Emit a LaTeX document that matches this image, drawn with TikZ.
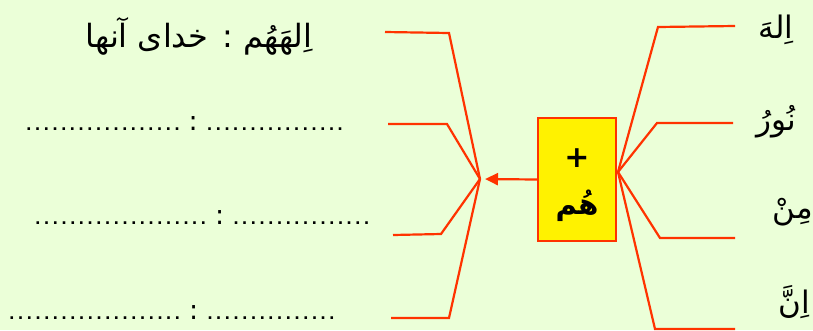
\documentclass[tikz,border=0pt]{standalone}
\usepackage{fontspec}
\usetikzlibrary{arrows.meta}
\TeXXeTstate=1
\newfontfamily\arabicfont[Script=Arabic]{DejaVu Sans}
\definecolor{bg}{HTML}{EBFFD8}
\definecolor{ln}{HTML}{FF3300}
\newcommand\dotrun[1]{\foreach \i in {1,...,#1}{.\kern3.2pt}\unkern}
\tikzset{
  conn/.style={draw=ln, line width=2.2pt, line join=miter},
  ar/.style={font=\arabicfont\fontsize{31}{36}\selectfont, inner sep=0pt},
  dotsrow/.style={font=\arabicfont\bfseries\fontsize{14.5}{16}\selectfont, inner sep=0pt, anchor=base west},
}
\newcommand\bigcolon{\hspace{9pt}{\mdseries\fontsize{27}{27}\selectfont:}\hspace{9pt}}
\begin{document}
\begin{tikzpicture}[x=1pt,y=-1pt]
\fill[bg] (0,0) rectangle (813,330);
\useasboundingbox (0,0) rectangle (813,330);
% centre box
\node[draw=ln, fill=yellow, line width=2.2pt, minimum width=78pt, minimum height=123pt, inner sep=0pt] (box) at (577,179.5) {};
\node[font=\arabicfont\bfseries\fontsize{30}{30}\selectfont, inner sep=0pt] (plus) at (577,158) {+};
\node[font=\arabicfont\bfseries\fontsize{29}{32}\selectfont, inner sep=0pt] (hum) at (577,206) {\beginR هُم\endR};
% hubs
\coordinate (hubL) at (480,179);
\coordinate (hubR) at (618,172);
% left branches
\coordinate (l1a) at (385,32);  \coordinate (l1b) at (449,33);
\coordinate (l2a) at (388,124); \coordinate (l2b) at (447,124);
\coordinate (l3a) at (393,235); \coordinate (l3b) at (441,234);
\coordinate (l4a) at (391,318); \coordinate (l4b) at (449,318);
\draw[conn] (l1a) -- (l1b) -- (hubL);
\draw[conn] (l2a) -- (l2b) -- (hubL);
\draw[conn] (l3a) -- (l3b) -- (hubL);
\draw[conn] (l4a) -- (l4b) -- (hubL);
% arrow
\draw[draw=ln, line width=2.2pt, -{Triangle[length=13pt,width=12pt]}, shorten >=5pt] (box.west) -- (hubL);
% right branches
\coordinate (r1a) at (658,27);  \coordinate (r1b) at (735,26);
\coordinate (r2a) at (657,123); \coordinate (r2b) at (733,123);
\coordinate (r3a) at (660,238); \coordinate (r3b) at (735,238);
\coordinate (r4a) at (655,329); \coordinate (r4b) at (735,329);
\draw[conn] (hubR) -- (r1a) -- (r1b);
\draw[conn] (hubR) -- (r2a) -- (r2b);
\draw[conn] (hubR) -- (r3a) -- (r3b);
\draw[conn] (hubR) -- (r4a) -- (r4b);
% right labels
\node[ar] (w1) at (776,30) {\beginR اِلهَ\endR};
\node[ar] (w2) at (776,122) {\beginR نُورُ\endR};
\node[ar] (w3) at (793,212) {\beginR مِنْ\endR};
\node[ar] (w4) at (794,302) {\beginR اِنَّ\endR};
% left texts
\node[ar, font=\arabicfont\fontsize{32}{36}\selectfont] (t1) at (199,36) {\beginR اِلهَهُم : خدای آنها\endR};
\node[dotsrow] (t2) at (26,130) {\dotrun{18}\bigcolon\dotrun{16}};
\node[dotsrow] (t3) at (35,224) {\dotrun{20}\bigcolon\dotrun{16}};
\node[dotsrow] (t4) at (9,319) {\dotrun{20}\bigcolon\dotrun{15}};
\end{tikzpicture}
\end{document}
